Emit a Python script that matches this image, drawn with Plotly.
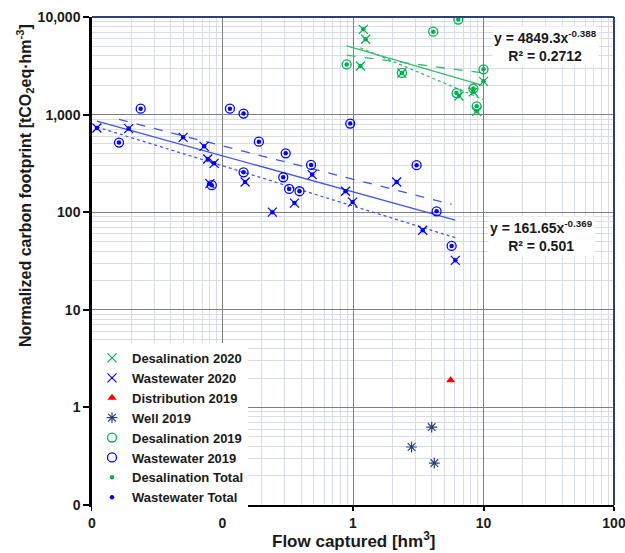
import numpy as np
import plotly.graph_objects as go

# ---------------- data ----------------
ww2020_x = [0.0109, 0.0191, 0.0499, 0.0723, 0.0771, 0.0863, 0.080, 0.149, 0.487, 0.241,
            0.356, 0.877, 0.993, 2.16, 3.42, 6.08]
ww2020_y = [729, 719, 585, 473, 351, 317, 196, 204, 243, 100,
            124, 164, 127, 204, 65.3, 32.1]
ww2019_x = [0.0161, 0.0236, 0.0828, 0.114, 0.145, 0.190, 0.305, 0.145, 0.292, 0.324,
            0.389, 0.477, 0.952, 3.07, 4.37, 5.70]
ww2019_y = [517, 1150, 189, 1150, 1024, 528, 401, 256, 228, 173,
            164, 305, 809, 303, 102, 45.1]

des2020_x = [1.14, 1.20, 1.25, 2.37, 6.49, 8.36, 8.87, 10.0]
des2020_y = [3150, 7480, 5910, 2670, 1550, 1710, 1081, 2190]
des2019_x = [0.894, 2.37, 4.12, 6.41, 6.22, 8.36, 8.87, 10.0]
des2019_y = [3270, 2670, 7080, 9400, 1660, 1850, 1217, 2910]

well2019_x = [2.81, 4.01, 4.20]
well2019_y = [0.393, 0.629, 0.269]
dist2019_x = [5.60]
dist2019_y = [1.90]

# power-law trendlines y = a * x^b
ww_total_fit = (161.65, -0.369)
ww_total_r2 = 0.501
ww2019_fit = (218.0, -0.341)
ww2020_fit = (115.6, -0.4126)
des_total_fit = (4849.3, -0.388)
des_total_r2 = 0.2712
des2019_fit = (3981.0, -0.174)
des2020_fit = (5200.0, -0.562)

x_tickvals = [0.01, 0.1, 1, 10, 100]
x_ticktext = ["0", "0", "1", "10", "100"]
y_tickvals = [0.1, 1, 10, 100, 1000, 10000]
y_ticktext = ["0", "1", "10", "100", "1,000", "10,000"]

# ---------------- styling ----------------
GREEN = "#00b050"
GREEN_LINE = "#35bb6c"
BLUE = "#0000ff"
BLUE_LINE = "#4256e6"
NAVY = "#2e4079"
RED = "#ff0000"
FONT = "Arial, Liberation Sans, sans-serif"

ww_total_x = ww2019_x + ww2020_x
ww_total_y = ww2019_y + ww2020_y
des_total_x = des2019_x + des2020_x
des_total_y = des2019_y + des2020_y


def fit_line(xs, fit):
    a, b = fit
    xr = np.array([min(xs), max(xs)])
    return xr, a * xr ** b


fig = go.Figure()

for xs, fit, col, dash in [
    (ww_total_x, ww_total_fit, BLUE_LINE, "solid"),
    (ww2019_x, ww2019_fit, BLUE_LINE, "dash"),
    (ww2020_x, ww2020_fit, BLUE_LINE, "dot"),
    (des_total_x, des_total_fit, GREEN_LINE, "solid"),
    (des2019_x, des2019_fit, GREEN_LINE, "dash"),
    (des2020_x, des2020_fit, GREEN_LINE, "dot"),
]:
    lx, ly = fit_line(xs, fit)
    fig.add_trace(go.Scatter(x=lx, y=ly, mode="lines", showlegend=False, hoverinfo="skip",
                             line=dict(color=col, width=1.3, dash=dash)))

fig.add_trace(go.Scatter(x=ww2019_x, y=ww2019_y, mode="markers", name="Wastewater 2019", legendrank=6,
                         marker=dict(symbol="circle-open", size=9, color=BLUE, line=dict(width=1.3, color=BLUE))))
fig.add_trace(go.Scatter(x=des2019_x, y=des2019_y, mode="markers", name="Desalination 2019", legendrank=5,
                         marker=dict(symbol="circle-open", size=9, color=GREEN, line=dict(width=1.3, color=GREEN))))
fig.add_trace(go.Scatter(x=ww2020_x, y=ww2020_y, mode="markers", name="Wastewater 2020", legendrank=2,
                         marker=dict(symbol="x-thin-open", size=9, color=BLUE, line=dict(width=1.2, color=BLUE))))
fig.add_trace(go.Scatter(x=des2020_x, y=des2020_y, mode="markers", name="Desalination 2020", legendrank=1,
                         marker=dict(symbol="x-thin-open", size=9, color=GREEN, line=dict(width=1.2, color=GREEN))))
fig.add_trace(go.Scatter(x=dist2019_x, y=dist2019_y, mode="markers", name="Distribution 2019", legendrank=3,
                         marker=dict(symbol="triangle-up", size=8, color=RED)))
fig.add_trace(go.Scatter(x=well2019_x, y=well2019_y, mode="markers", name="Well 2019", legendrank=4,
                         marker=dict(symbol="asterisk-open", size=9, color=NAVY, line=dict(width=1.2, color=NAVY))))
fig.add_trace(go.Scatter(x=des_total_x, y=des_total_y, mode="markers", name="Desalination Total", legendrank=7,
                         marker=dict(symbol="circle", size=4.5, color=GREEN)))
fig.add_trace(go.Scatter(x=ww_total_x, y=ww_total_y, mode="markers", name="Wastewater Total", legendrank=8,
                         marker=dict(symbol="circle", size=4.5, color=BLUE)))

minor_x = [k * 10.0 ** d for d in range(-2, 2) for k in range(2, 10)]
minor_y = [k * 10.0 ** d for d in range(-1, 4) for k in range(2, 10)]

tickfont = dict(family=FONT, size=14, color="#1a1a1a", weight="bold")

fig.update_xaxes(type="log", range=[-2, 2], tickmode="array", tickvals=x_tickvals, ticktext=x_ticktext,
                 showgrid=True, gridcolor="#7f7f7f", gridwidth=1,
                 minor=dict(tickmode="array", tickvals=minor_x, showgrid=True, gridcolor="#d6dce9", gridwidth=1, ticks=""),
                 showline=True, linecolor="black", linewidth=2, ticks="outside", ticklen=4, tickwidth=1.5,
                 tickcolor="black", tickfont=tickfont, zeroline=False, ticklabeloverflow="allow",
                 automargin=False)
fig.update_yaxes(type="log", range=[-1, 4], tickmode="array", tickvals=y_tickvals, ticktext=y_ticktext,
                 showgrid=True, gridcolor="#7f7f7f", gridwidth=1,
                 minor=dict(tickmode="array", tickvals=minor_y, showgrid=True, gridcolor="#d6dce9", gridwidth=1, ticks=""),
                 showline=True, linecolor="black", linewidth=2.5, ticks="outside", ticklen=6, tickwidth=1.5,
                 tickcolor="black", tickfont=tickfont, zeroline=False, ticklabeloverflow="allow",
                 automargin=False)

fig.add_shape(type="line", xref="paper", yref="paper", x0=0, x1=1, y0=1, y1=1, line=dict(color=NAVY, width=2))
fig.add_shape(type="line", xref="paper", yref="paper", x0=1, x1=1, y0=0, y1=1, line=dict(color=NAVY, width=2))

annfont = dict(family=FONT, size=14, color="#1a1a1a", weight="bold")
fig.add_annotation(xref="paper", yref="paper", x=0.868, y=0.9406, xanchor="center", yanchor="middle",
                   showarrow=False, bgcolor="white",
                   text=f"y = {des_total_fit[0]}x<sup>{des_total_fit[1]}</sup><br>R² = {des_total_r2}",
                   font=annfont, align="center")
fig.add_annotation(xref="paper", yref="paper", x=0.862, y=0.551, xanchor="center", yanchor="middle",
                   showarrow=False, bgcolor="white",
                   text=f"y = {ww_total_fit[0]}x<sup>{ww_total_fit[1]}</sup><br>R² = {ww_total_r2}",
                   font=annfont, align="center")

titlefont = dict(family=FONT, size=17, color="#1a1a1a", weight="bold")
fig.add_annotation(xref="paper", yref="paper", x=0.5, y=-0.0717, xanchor="center", yanchor="middle",
                   showarrow=False, text="Flow captured [hm<sup>3</sup>]", font=titlefont)
fig.add_annotation(xref="paper", yref="paper", x=-0.128, y=0.654, xanchor="center", yanchor="middle",
                   showarrow=False, textangle=-90,
                   text="Normalized carbon footprint [tCO<sub>2</sub>eq·hm<sup>-3</sup>]",
                   font=dict(family=FONT, size=16, color="#1a1a1a", weight="bold"))

fig.update_layout(
    width=625, height=553,
    margin=dict(l=92, r=11, t=17, b=48),
    paper_bgcolor="white", plot_bgcolor="white",
    legend=dict(x=0.0, y=0.332, xanchor="left", yanchor="top", bgcolor="white", borderwidth=0,
                font=dict(family=FONT, size=13, color="#1a1a1a", weight="bold"),
                tracegroupgap=0),
)

fig.write_html("out.html")
